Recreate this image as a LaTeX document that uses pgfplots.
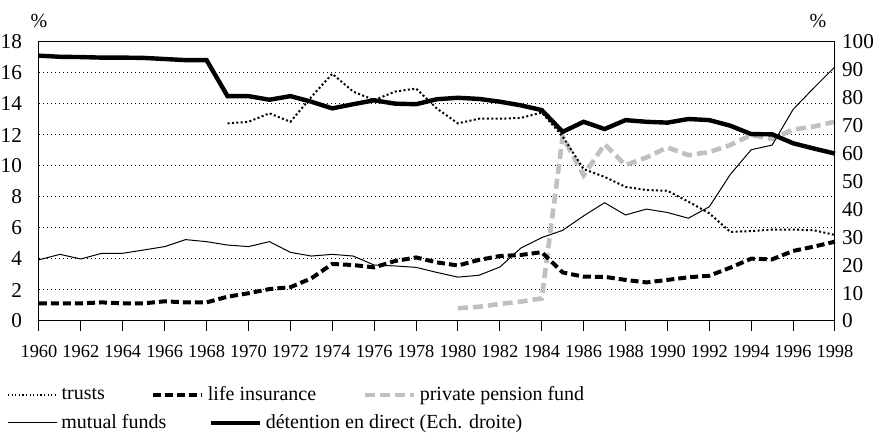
\documentclass[border=0pt]{standalone}
\usepackage{fontspec}
\setmainfont{Liberation Serif}
\usepackage{pgfplots}
\usepackage{pgfplotstable}
\pgfplotsset{compat=1.18}

\definecolor{pensiongray}{RGB}{192,192,192}

% left scale, %
\pgfplotstableread{
year value
1969 12.75
1970 12.85
1971 13.40
1972 12.85
1973 14.45
1974 15.95
1975 14.80
1976 14.25
1977 14.80
1978 15.00
1979 13.70
1980 12.75
1981 13.05
1982 13.05
1983 13.10
1984 13.45
1985 11.90
1986 9.80
1987 9.30
1988 8.65
1989 8.45
1990 8.40
1991 7.70
1992 6.95
1993 5.75
1994 5.80
1995 5.90
1996 5.90
1997 5.85
1998 5.55
}\trusts

\pgfplotstableread{
year value
1960 3.95
1961 4.30
1962 4.00
1963 4.37
1964 4.37
1965 4.58
1966 4.80
1967 5.25
1968 5.12
1969 4.90
1970 4.80
1971 5.12
1972 4.43
1973 4.19
1974 4.30
1975 4.19
1976 3.61
1977 3.55
1978 3.46
1979 3.13
1980 2.83
1981 2.95
1982 3.48
1983 4.70
1984 5.38
1985 5.85
1986 6.78
1987 7.63
1988 6.84
1989 7.22
1990 7.00
1991 6.63
1992 7.37
1993 9.45
1994 11.05
1995 11.35
1996 13.65
1997 15.05
1998 16.40
}\mutual

\pgfplotstableread{
year value
1960 1.14
1961 1.14
1962 1.14
1963 1.20
1964 1.14
1965 1.14
1966 1.27
1967 1.20
1968 1.20
1969 1.57
1970 1.79
1971 2.06
1972 2.18
1973 2.75
1974 3.68
1975 3.61
1976 3.46
1977 3.87
1978 4.10
1979 3.78
1980 3.58
1981 3.94
1982 4.19
1983 4.26
1984 4.44
1985 3.13
1986 2.86
1987 2.85
1988 2.65
1989 2.49
1990 2.65
1991 2.82
1992 2.92
1993 3.44
1994 4.02
1995 3.98
1996 4.52
1997 4.80
1998 5.12
}\lifeins

\pgfplotstableread{
year value
1980 0.82
1981 0.92
1982 1.10
1983 1.25
1984 1.46
1985 11.90
1986 9.40
1987 11.40
1988 10.06
1989 10.55
1990 11.20
1991 10.70
1992 10.90
1993 11.35
1994 12.00
1995 11.75
1996 12.35
1997 12.55
1998 12.86
}\pension

% right scale, %
\pgfplotstableread{
year value
1960 95.1
1961 94.7
1962 94.6
1963 94.4
1964 94.4
1965 94.3
1966 93.9
1967 93.5
1968 93.5
1969 80.6
1970 80.6
1971 79.3
1972 80.6
1973 78.6
1974 76.2
1975 77.7
1976 79.1
1977 77.9
1978 77.7
1979 79.5
1980 80.0
1981 79.6
1982 78.6
1983 77.3
1984 75.6
1985 67.8
1986 71.4
1987 68.8
1988 72.0
1989 71.4
1990 71.1
1991 72.4
1992 72.0
1993 70.0
1994 67.0
1995 66.9
1996 63.7
1997 61.8
1998 60.0
}\direct

\pgfplotsset{
  trustsline/.style={black, line width=1pt, dash pattern=on 1pt off 1.2pt},
  lifeline/.style={black, line width=2pt, dash pattern=on 4pt off 2pt},
  pensionline/.style={pensiongray, line width=2.3pt, dash pattern=on 5pt off 2.5pt},
  mutualline/.style={black, line width=0.5pt},
  directline/.style={black, line width=2.2pt},
  base/.style={
    at={(0,0)}, anchor=south west,
    scale only axis, width=398pt, height=139.5pt,
    xmin=1960, xmax=1998,
    font=\fontsize{10}{12}\selectfont,
    /pgf/number format/assume math mode=true,
    ytick style={draw=none},
    yticklabel style={font=\fontsize{10.6}{12}\selectfont},
    axis line style={line width=0.5pt},
    legend cell align=left,
    legend image code/.code={\draw[##1] (0pt,0pt) -- (24.5pt,0pt);},
  },
}

\begin{document}
\begin{tikzpicture}
\begin{axis}[base,
  ymin=0, ymax=18,
  xtick={1960,1962,...,1998}, ytick={0,2,...,18},
  xtick pos=bottom, ytick pos=left,
  tick align=outside, major tick length=5pt,
  xtick style={black, line width=0.5pt},
  xticklabel style={font=\fontsize{9.2}{10}\selectfont, /pgf/number format/1000 sep={}, yshift=-3.5pt},
  ymajorgrids,
  major grid style={black, line width=0.5pt, dash pattern=on 0.5pt off 1.5pt},
  clip=false,
  legend columns=-1,
  legend style={draw=none, fill=none, inner sep=0pt, at={(0,0)}, anchor=west,
    xshift=-16pt, yshift=-37pt, font=\fontsize{10}{12}\selectfont,
    /tikz/every even column/.append style={column sep=21pt}},
]
\addplot[pensionline, forget plot] table[x=year, y=value] {\pension};
\addplot[lifeline, forget plot] table[x=year, y=value] {\lifeins};
\addplot[mutualline, forget plot] table[x=year, y=value] {\mutual};
\addplot[trustsline, forget plot] table[x=year, y=value] {\trusts};
\addlegendimage{black, line width=0.6pt, dash pattern=on 0.6pt off 1.2pt}
\addlegendentry{trusts}
\addlegendimage{lifeline}
\addlegendentry{life insurance}
\addlegendimage{pensionline}
\addlegendentry{private pension fund}
\node at (rel axis cs:0,1) [yshift=10.5pt] {\%};
\end{axis}
\begin{axis}[base,
  ymin=0, ymax=100,
  axis x line=none, axis y line*=right,
  ytick={0,10,...,100},
  clip=false,
  legend columns=-1,
  legend style={draw=none, fill=none, inner sep=0pt, at={(0,0)}, anchor=west,
    xshift=-16pt, yshift=-51pt, font=\fontsize{10}{12}\selectfont,
    /tikz/every even column/.append style={column sep=19pt}},
]
\addlegendimage{mutualline}
\addlegendentry{mutual funds}
\addplot[directline] table[x=year, y=value] {\direct};
\addlegendentry{détention en direct (Ech. droite)}
\node at (rel axis cs:1,1) [xshift=-8.5pt, yshift=10.5pt] {\%};
\end{axis}
\pgfresetboundingbox
\path (-19.5pt,-56pt) rectangle (418pt,160.5pt);
\end{tikzpicture}
\end{document}
